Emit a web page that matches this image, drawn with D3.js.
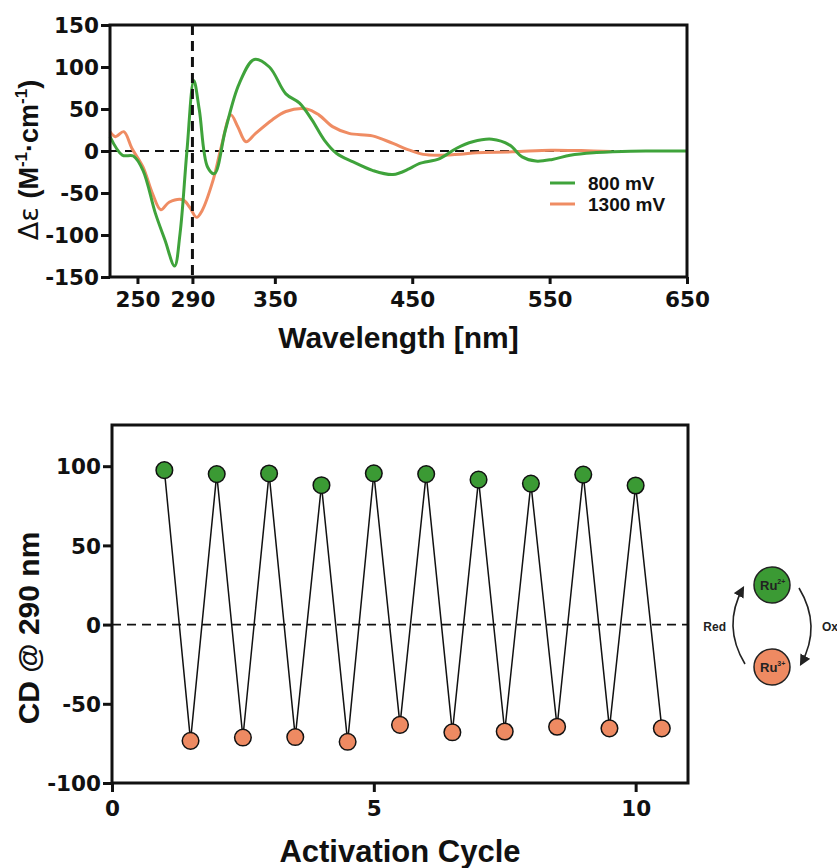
<!DOCTYPE html>
<html>
<head>
<meta charset="utf-8">
<script src="https://cdn.jsdelivr.net/npm/d3@7"></script>
<style>
  body { margin: 0; background: #fff; }
  svg { font-family: "Liberation Sans", Arial, sans-serif; }
  .tick text { font-family: "DejaVu Sans", sans-serif; font-weight: bold; font-size: 21.5px; fill: #111; }
</style>
</head>
<body>
<svg id="fig" width="837" height="868"></svg>
<script>
// top panel: CD spectra
var wl800 = [230, 239, 247, 254, 263, 270, 277, 281, 286, 291, 295, 301, 306, 314, 324, 335, 346, 358, 368, 377, 386, 395, 407, 421, 436, 448, 455, 470, 482, 494, 508, 521, 530, 540, 552, 565, 582, 596, 620, 650];
var de800 = [17, -5, -6, -23, -74, -106, -137, -98, 0, 84, 49, -19, -27, 25, 80, 109, 100, 68, 57, 37, 13, -3, -13, -23, -28, -21, -15, -9, 3, 11, 14, 7, -7, -12, -10, -5, -2, -1, 0, 0];
var wl1300 = [230, 234, 240, 246, 254, 261, 267, 273, 283, 288, 293, 297, 305, 311, 318, 323, 329, 336, 348, 358, 373, 382, 392, 404, 421, 436, 448, 458, 470, 485, 497, 523, 551, 573, 595];
var de1300 = [23, 17, 23, 3, -19, -51, -70, -61, -58, -67, -79, -71, -35, 5, 43, 29, 11, 21, 37, 47, 50, 43, 29, 21, 18, 9, 1, -4, -5, -4, -2, -1, 1, 0.5, -0.5];
var topXTicks = [250, 290, 350, 450, 550, 650];
var topYTicks = [150, 100, 50, 0, -50, -100, -150];
var legendNames = ["800 mV", "1300 mV"];

// bottom panel: switching cycles
var cycGreen = [1, 2, 3, 4, 5, 6, 7, 8, 9, 10];
var cdGreen = [97.5, 95, 95.4, 88, 95.5, 95, 91.5, 89, 94.7, 87.8];
var cycOrange = [1.5, 2.5, 3.5, 4.5, 5.5, 6.5, 7.5, 8.5, 9.5, 10.5];
var cdOrange = [-73.4, -71.3, -71, -74, -63.3, -68, -67.5, -64.5, -65.5, -65.5];
var botXTicks = [0, 5, 10];
var botYTicks = [100, 50, 0, -50, -100];

var green = "#3fa33b", orange = "#ef8c63";
var gFill = "#3b9a34", oFill = "#ee8a62";
var fmt = d => String(d); // plain hyphen for negatives

var svg = d3.select("#fig");

// ---------- TOP ----------
var m1 = {left: 110, top: 25, w: 577, h: 252};
var g1 = svg.append("g").attr("transform", "translate(" + m1.left + "," + m1.top + ")");
var x1 = d3.scaleLinear().domain([230, 650]).range([0, m1.w]);
var y1 = d3.scaleLinear().domain([-150, 150]).range([m1.h, 0]);

// zero line
g1.append("line").attr("x1", 0).attr("x2", m1.w).attr("y1", y1(0)).attr("y2", y1(0))
  .attr("stroke", "#111").attr("stroke-width", 2).attr("stroke-dasharray", "9,6");

var line1 = d3.line().x(d => x1(d[0])).y(d => y1(d[1])).curve(d3.curveCatmullRom.alpha(0.5));
g1.append("path").datum(d3.zip(wl1300, de1300)).attr("d", line1)
  .attr("fill", "none").attr("stroke", orange).attr("stroke-width", 3);
g1.append("path").datum(d3.zip(wl800, de800)).attr("d", line1)
  .attr("fill", "none").attr("stroke", green).attr("stroke-width", 3);

// 290 nm marker
g1.append("line").attr("x1", x1(290)).attr("x2", x1(290)).attr("y1", 0).attr("y2", m1.h)
  .attr("stroke", "#111").attr("stroke-width", 3).attr("stroke-dasharray", "10,6");

// frame
g1.append("rect").attr("width", m1.w).attr("height", m1.h)
  .attr("fill", "none").attr("stroke", "#111").attr("stroke-width", 3);

g1.append("g").attr("transform", "translate(0," + m1.h + ")")
  .call(d3.axisBottom(x1).tickValues(topXTicks).tickFormat(fmt).tickSize(7).tickPadding(8))
  .call(a => a.select(".domain").remove())
  .call(a => a.selectAll("line").attr("stroke", "#111").attr("stroke-width", 3));
g1.append("g")
  .call(d3.axisLeft(y1).tickValues(topYTicks).tickFormat(fmt).tickSize(9).tickPadding(2))
  .call(a => a.select(".domain").remove())
  .call(a => a.selectAll("line").attr("stroke", "#111").attr("stroke-width", 3))
  .call(a => a.selectAll("text").attr("dy", "0.36em"));

// legend
var leg = g1.append("g").attr("transform", "translate(440,158)");
[green, orange].forEach(function(c, i) {
  leg.append("line").attr("x1", 0).attr("x2", 25).attr("y1", i * 21).attr("y2", i * 21)
    .attr("stroke", c).attr("stroke-width", 3);
  leg.append("text").attr("x", 38).attr("y", i * 21 + 7).text(legendNames[i])
    .attr("font-size", 19).attr("font-weight", "bold").attr("fill", "#111");
});

svg.append("text").attr("x", m1.left + m1.w / 2).attr("y", 348).attr("text-anchor", "middle")
  .attr("font-size", 30).attr("font-weight", "bold").attr("fill", "#111").text("Wavelength [nm]");

var yl1 = svg.append("text").attr("transform", "translate(38,160) rotate(-90)")
  .attr("text-anchor", "middle").attr("font-size", 27).attr("fill", "#111");
yl1.append("tspan").attr("font-family", "DejaVu Sans").attr("font-weight", "normal").text("Δε ");
yl1.append("tspan").attr("font-weight", "bold").text("(M");
yl1.append("tspan").attr("font-weight", "bold").attr("font-size", 17).attr("dy", -11).text("-1");
yl1.append("tspan").attr("font-weight", "bold").attr("dy", 11).text("·cm");
yl1.append("tspan").attr("font-weight", "bold").attr("font-size", 17).attr("dy", -11).text("-1");
yl1.append("tspan").attr("font-weight", "bold").attr("dy", 11).text(")");

// ---------- BOTTOM ----------
var m2 = {left: 112, top: 425, w: 576, h: 358};
var g2 = svg.append("g").attr("transform", "translate(" + m2.left + "," + m2.top + ")");
var x2 = d3.scaleLinear().domain([0, 11]).range([0, m2.w]);
var y2 = d3.scaleLinear().domain([-100, 126]).range([m2.h, 0]);

g2.append("line").attr("x1", 0).attr("x2", m2.w).attr("y1", y2(0)).attr("y2", y2(0))
  .attr("stroke", "#111").attr("stroke-width", 1.8).attr("stroke-dasharray", "9,6");

var pts = [];
cycGreen.forEach(function(c, i) {
  pts.push({x: c, y: cdGreen[i], s: "g"});
  pts.push({x: cycOrange[i], y: cdOrange[i], s: "o"});
});
g2.append("path").datum(pts).attr("d", d3.line().x(d => x2(d.x)).y(d => y2(d.y)))
  .attr("fill", "none").attr("stroke", "#111").attr("stroke-width", 1.5);
g2.selectAll("circle").data(pts).enter().append("circle")
  .attr("cx", d => x2(d.x)).attr("cy", d => y2(d.y)).attr("r", 8.3)
  .attr("fill", d => d.s === "g" ? gFill : oFill).attr("stroke", "#111").attr("stroke-width", 1.5);

g2.append("rect").attr("width", m2.w).attr("height", m2.h)
  .attr("fill", "none").attr("stroke", "#111").attr("stroke-width", 3);

g2.append("g").attr("transform", "translate(0," + m2.h + ")")
  .call(d3.axisBottom(x2).tickValues(botXTicks).tickFormat(fmt).tickSize(9).tickPadding(9))
  .call(a => a.select(".domain").remove())
  .call(a => a.selectAll("line").attr("stroke", "#111").attr("stroke-width", 3));
g2.append("g")
  .call(d3.axisLeft(y2).tickValues(botYTicks).tickFormat(fmt).tickSize(9).tickPadding(2))
  .call(a => a.select(".domain").remove())
  .call(a => a.selectAll("line").attr("stroke", "#111").attr("stroke-width", 3))
  .call(a => a.selectAll("text").attr("dy", "0.36em"));

svg.append("text").attr("x", m2.left + m2.w / 2).attr("y", 862).attr("text-anchor", "middle")
  .attr("font-size", 31).attr("font-weight", "bold").attr("fill", "#111").text("Activation Cycle");
svg.append("text").attr("transform", "translate(39,628) rotate(-90)")
  .attr("text-anchor", "middle").attr("font-size", 30).attr("font-weight", "bold")
  .attr("fill", "#111").text("CD @ 290 nm");

// ---------- redox scheme ----------
var sc = svg.append("g").attr("transform", "translate(772,626)");
svg.append("defs").append("marker").attr("id", "ah").attr("viewBox", "0 0 10 10")
  .attr("refX", 8).attr("refY", 5).attr("markerWidth", 7).attr("markerHeight", 7)
  .attr("orient", "auto-start-reverse")
  .append("path").attr("d", "M0,0 L10,5 L0,10 z").attr("fill", "#222");
sc.append("path").attr("d", "M-27,38 Q-50,0 -29,-38").attr("fill", "none")
  .attr("stroke", "#222").attr("stroke-width", 1.6).attr("marker-end", "url(#ah)");
sc.append("path").attr("d", "M27,-38 Q50,0 29,38").attr("fill", "none")
  .attr("stroke", "#222").attr("stroke-width", 1.6).attr("marker-end", "url(#ah)");
[{cy: -41, f: gFill, c: "2+"}, {cy: 41, f: oFill, c: "3+"}].forEach(function(d) {
  sc.append("circle").attr("cx", 0).attr("cy", d.cy).attr("r", 18)
    .attr("fill", d.f).attr("stroke", "#222").attr("stroke-width", 1.5);
  var t = sc.append("text").attr("x", -12).attr("y", d.cy + 5).attr("font-size", 13)
    .attr("font-weight", "bold").attr("fill", "#222");
  t.append("tspan").text("Ru");
  t.append("tspan").attr("font-size", 7).attr("dy", -6).text(d.c);
});
sc.append("text").attr("x", -46).attr("y", 5).attr("text-anchor", "end").attr("font-size", 12)
  .attr("font-weight", "bold").attr("fill", "#222").text("Red");
sc.append("text").attr("x", 50).attr("y", 5).attr("font-size", 12)
  .attr("font-weight", "bold").attr("fill", "#222").text("Ox");
</script>
</body>
</html>
